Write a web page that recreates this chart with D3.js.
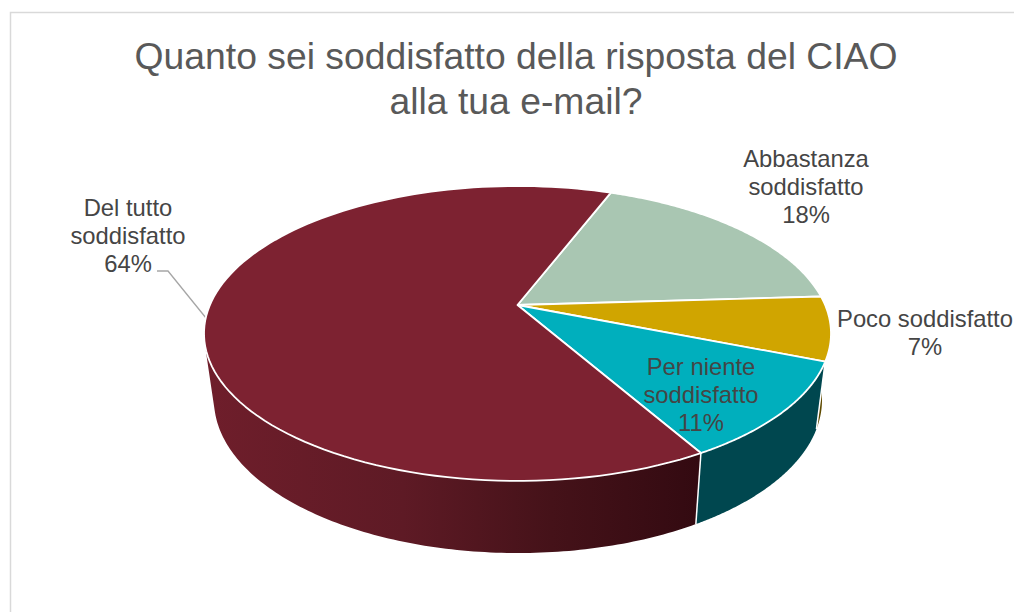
<!DOCTYPE html>
<html>
<head>
<meta charset="utf-8">
<script src="https://cdn.jsdelivr.net/npm/d3@7"></script>
<style>
html,body{margin:0;padding:0;background:#fff}
svg{display:block}
text{font-family:"Liberation Sans",Arial,sans-serif}
</style>
</head>
<body>
<script>
const titleLines = ["Quanto sei soddisfatto della risposta del CIAO", "alla tua e-mail?"];
const categories = ["Abbastanza soddisfatto", "Poco soddisfatto", "Per niente soddisfatto", "Del tutto soddisfatto"];
const values = [18.2, 7, 10.7, 64.1];
const topColors = ["#a9c6b2", "#d0a500", "#00afbd", "#7d2231"];
const sideColors = ["#6b8a76", "#5e4a00", "#00474f", "url(#sideGrad)"];

// layout only
const labelLayout = [
  {x: 806, y: 167, lines: ["Abbastanza", "soddisfatto"]},
  {x: 925, y: 327, lines: ["Poco soddisfatto"]},
  {x: 701, y: 375, lines: ["Per niente", "soddisfatto"]},
  {x: 128, y: 216, lines: ["Del tutto", "soddisfatto"]}
];

const W = 1014, H = 612;
const svg = d3.select("body").append("svg").attr("width", W).attr("height", H);

const grad = svg.append("defs").append("linearGradient")
  .attr("id", "sideGrad").attr("gradientUnits", "userSpaceOnUse")
  .attr("x1", 205).attr("x2", 700).attr("y1", 0).attr("y2", 0);
[[0, "#6f1e2b"], [0.4, "#5e1a25"], [0.7, "#451219"], [1, "#330a11"]].forEach(([o, c]) =>
  grad.append("stop").attr("offset", o).attr("stop-color", c));

// outer border of the chart frame
svg.append("path").attr("d", `M10.5,${H}V12.5H${W}`).attr("fill", "none")
  .attr("stroke", "#d9d9d9").attr("stroke-width", 1.5);

// perspective projection of the pie disc
const persp = -0.193;
const norm = Math.sqrt(1 - persp * persp);
function projector(cx, rx, apexY, a) {
  return t => {
    const u = Math.sin(t), v = -Math.cos(t), w = 1 + persp * v;
    return [cx + rx * norm * u / w, (apexY + a * v) / w];
  };
}
const topDisc = projector(517.5, 313.5, 305, 83.1);
const botDisc = projector(518, 304, 370.5, 75.8);

const rotation = 21 * Math.PI / 180;
const arcs = d3.pie().sort(null).value(d => d)
  .startAngle(rotation).endAngle(rotation + 2 * Math.PI)(values);
const line = d3.line();
const sample = (a0, a1) => d3.range(0, 121).map(i => a0 + (a1 - a0) * i / 120);

const visMax = 255 * Math.PI / 180;

// side walls
arcs.forEach((d, i) => {
  const a1 = Math.min(d.endAngle, visMax);
  const s = sample(d.startAngle, a1);
  svg.append("path")
    .attr("d", line(s.map(topDisc).concat(s.slice().reverse().map(botDisc))) + "Z")
    .attr("fill", sideColors[i]);
});
// white seams on the walls
[arcs[1].endAngle, arcs[2].endAngle].forEach(t => {
  svg.append("path").attr("d", line([topDisc(t), botDisc(t)]))
    .attr("stroke", "#fff").attr("stroke-width", 1.5).attr("fill", "none");
});

// leader line
svg.append("path").attr("d", line([[157, 271], [168, 271], [206, 318]]))
  .attr("fill", "none").attr("stroke", "#a6a6a6").attr("stroke-width", 1.3);

// top faces
arcs.forEach((d, i) => {
  const pts = [[517.5, 305]].concat(sample(d.startAngle, d.endAngle).map(topDisc));
  svg.append("path").attr("d", line(pts) + "Z")
    .attr("fill", topColors[i]).attr("stroke", "#fff")
    .attr("stroke-width", 1.8).attr("stroke-linejoin", "round");
});

// title
svg.append("g").selectAll("text").data(titleLines).join("text")
  .attr("x", 516).attr("y", (d, i) => 69 + i * 45)
  .attr("text-anchor", "middle").attr("font-size", 37.3).attr("fill", "#595959")
  .text(d => d);

// labels
labelLayout.forEach((l, k) => {
  const lines = l.lines.concat(Math.round(values[k]) + "%");
  svg.append("g").selectAll("text").data(lines).join("text")
    .attr("x", l.x).attr("y", (d, i) => l.y + i * 28)
    .attr("text-anchor", "middle").attr("font-size", 23.8).attr("fill", "#454545")
    .text(d => d);
});
</script>
</body>
</html>
